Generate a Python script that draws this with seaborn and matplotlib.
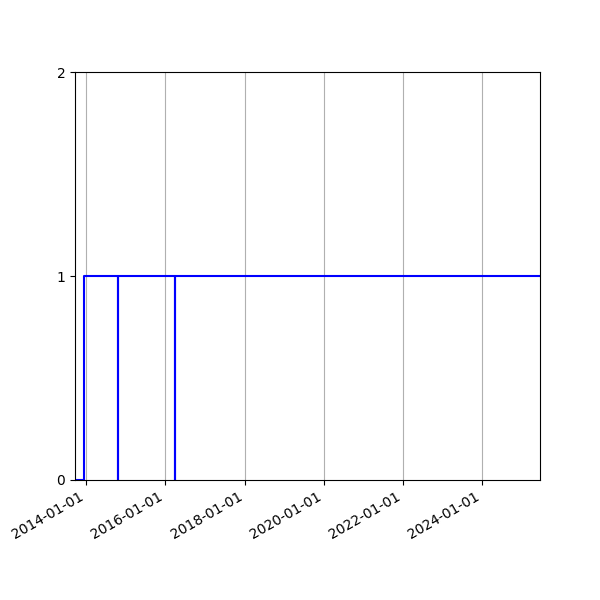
import matplotlib
matplotlib.use('Agg')

import pandas as pd
import seaborn as sns
import matplotlib.pyplot as plt
import matplotlib.dates as mdates


dates = ["2013-09-19", "2013-12-11", "2014-10-24", "2014-10-25",
         "2016-03-31", "2016-04-01", "2025-06-18"]
values = [0, 1, 0, 1, 0, 1, 1]

df = pd.DataFrame({"date": pd.to_datetime(dates), "value": values})

fig, ax = plt.subplots(figsize=(6, 6), dpi=100)

sns.lineplot(data=df, x="date", y="value", color="blue", linewidth=1.5,
             drawstyle="steps-post", ax=ax)

ax.set_xlim(df["date"].min(), df["date"].max())
ax.set_ylim(0, 2)
ax.set_yticks([0, 1, 2])
ax.set_xlabel("")
ax.set_ylabel("")

ax.xaxis.set_major_locator(mdates.YearLocator(2))
ax.xaxis.set_major_formatter(mdates.DateFormatter("%Y-%m-%d"))
ax.xaxis.grid(True)
ax.yaxis.grid(False)

fig.autofmt_xdate()
plt.savefig("out.png")
